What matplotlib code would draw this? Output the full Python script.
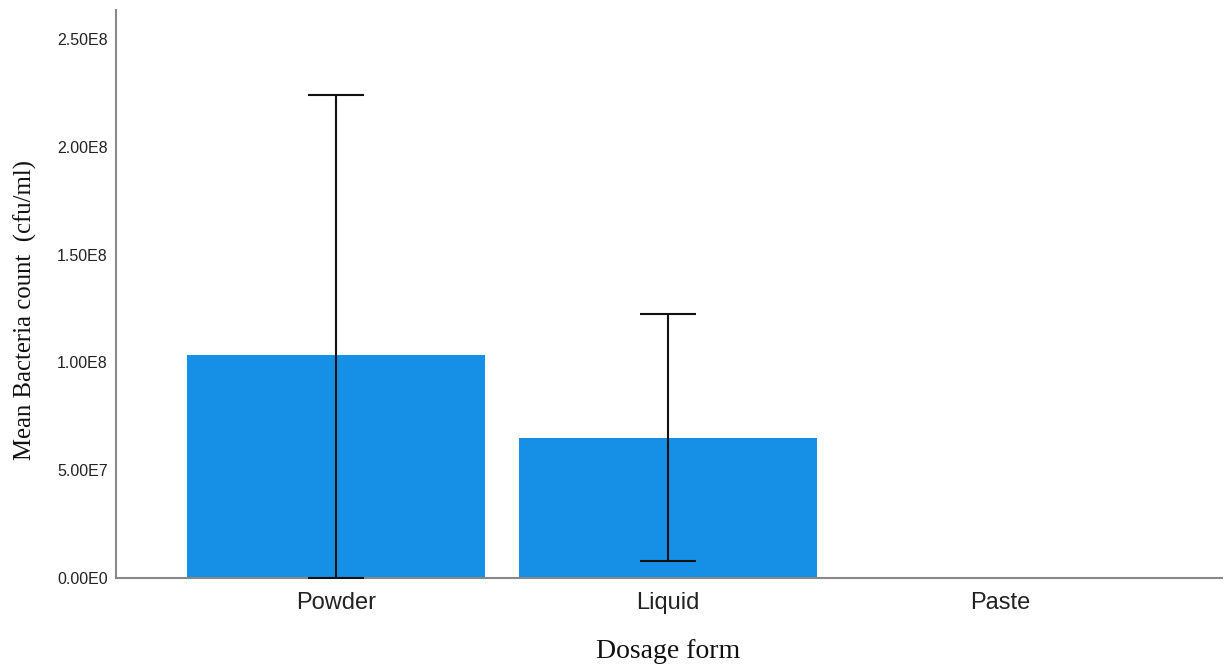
import matplotlib
matplotlib.use("Agg")
import matplotlib.pyplot as plt
import numpy as np

categories = ["Powder", "Liquid", "Paste"]
means = [1.034e8, 0.649e8, 0.0]
err_upper = [2.24e8, 1.224e8, 0.0]
err_lower = [0.0, 0.079e8, 0.0]
yticks = [0, 0.5e8, 1.0e8, 1.5e8, 2.0e8, 2.5e8]
ytick_labels = ["0.00E0", "5.00E7", "1.00E8", "1.50E8", "2.00E8", "2.50E8"]

fig = plt.figure(figsize=(12.24, 6.68), dpi=100)
ax = fig.add_axes([116/1224, 90/668, (1222-116)/1224, (578-10)/668])

x = np.arange(len(categories))
ax.bar(x[:2], means[:2], width=0.9, color="#1590E6", zorder=1)
for i in range(2):
    ax.errorbar(x[i], means[i],
                yerr=[[means[i]-err_lower[i]], [err_upper[i]-means[i]]],
                fmt="none", ecolor="#111111", elinewidth=1.5, capsize=20, capthick=1.5, zorder=3)

ax.set_xlim(-0.663, 2.669)
ax.set_ylim(0, 2.634e8)
ax.set_xticks(x)
ax.set_xticklabels(categories, fontfamily="Liberation Sans", fontsize=17, color="#222222")
ax.set_yticks(yticks)
ax.set_yticklabels(ytick_labels, fontfamily="Liberation Sans", fontsize=11.5, color="#222222")
ax.tick_params(axis="both", length=0)
ax.tick_params(axis="y", pad=6)
ax.tick_params(axis="x", pad=10)
for s in ["top", "right"]:
    ax.spines[s].set_visible(False)
for s in ["left", "bottom"]:
    ax.spines[s].set_color("#888888")
    ax.spines[s].set_linewidth(1.5)

fig.text(668/1224, 1 - 651/668, "Dosage form", fontfamily="Liberation Serif", fontsize=20,
         ha="center", va="center", color="#111111")
fig.text(25/1224, 1 - 310/668, "Mean Bacteria count  (cfu/ml)", fontfamily="Liberation Serif",
         fontsize=17.8, rotation=90, ha="center", va="center", color="#111111")

fig.savefig("out.png", dpi=100)
